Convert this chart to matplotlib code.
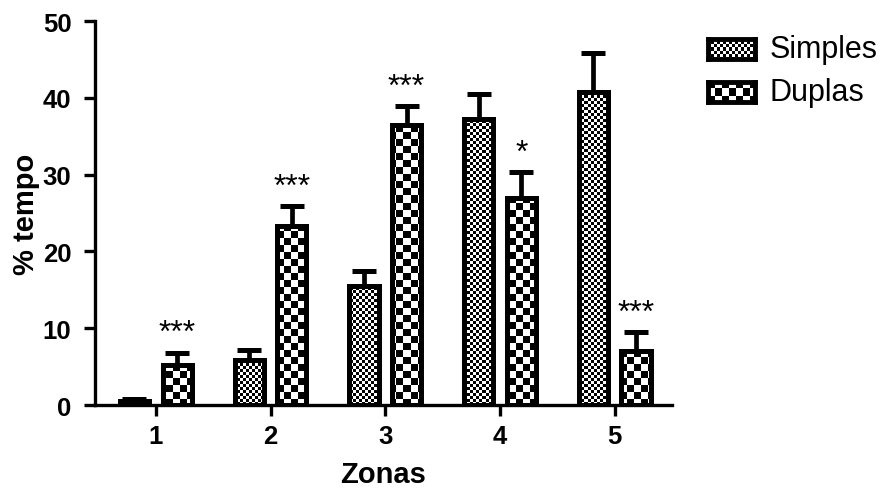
import numpy as np
import matplotlib
matplotlib.use("Agg")
import matplotlib.pyplot as plt

plt.rcParams['font.family'] = ['Liberation Sans', 'DejaVu Sans']

zones = ["1", "2", "3", "4", "5"]
series_names = ["Simples", "Duplas"]
simples = [0.5, 5.8, 15.5, 37.2, 40.8]
simples_err = [0.3, 1.3, 2.0, 3.3, 5.0]
duplas = [5.2, 23.3, 36.5, 26.9, 7.0]
duplas_err = [1.6, 2.6, 2.4, 3.4, 2.5]
signif = ["***", "***", "***", "*", "***"]
yticks = [0, 10, 20, 30, 40, 50]

W, H = 887, 489
fig = plt.figure(figsize=(W / 100, H / 100), dpi=100)
ax = fig.add_axes([95 / W, 1 - 406 / H, (672 - 95) / W, (406 - 22) / H])

x = np.arange(1, len(zones) + 1)
off = 0.186
bw = 0.255
ax.set_xlim(0.47, 5.5)
ax.set_ylim(0, 50)


def checker(h, w, c):
    i = np.arange(h)[:, None] // c
    j = np.arange(w)[None, :] // c
    return ((i + j) % 2).astype(float)


axw = int(round(fig.get_figwidth() * 100 * ax.get_position().width))
axh = int(round(fig.get_figheight() * 100 * ax.get_position().height))
patterns = {"Simples": checker(axh, axw, 3), "Duplas": checker(axh, axw, 7)}

groups = [(simples, simples_err, -off, "Simples"), (duplas, duplas_err, off, "Duplas")]
for vals, errs, dx, name in groups:
    bars = ax.bar(x + dx, vals, width=bw, facecolor='none', edgecolor='black',
                  linewidth=3.6, zorder=3)
    for b in bars:
        im = ax.imshow(patterns[name], cmap='gray', interpolation='nearest',
                       extent=(0.47, 5.5, 0, 50), aspect='auto', zorder=2)
        im.set_clip_path(b)
    ax.errorbar(x + dx, vals, yerr=[np.zeros(len(vals)), errs], fmt='none',
                ecolor='black', elinewidth=3.4, capsize=8.5, capthick=3.6, zorder=4)

for xi, v, e, s in zip(x, duplas, duplas_err, signif):
    ax.text(xi + off, v + e + 0.6, s, ha='center', va='bottom', fontsize=23)

ax.set_xlim(0.47, 5.5)
ax.set_ylim(0, 50)
ax.set_xticks(x)
ax.set_xticklabels(zones)
ax.set_yticks(yticks)
for sp in ['top', 'right']:
    ax.spines[sp].set_visible(False)
for sp in ['left', 'bottom']:
    ax.spines[sp].set_linewidth(2.4)
ax.tick_params(width=2.4, length=8, labelsize=18.5)
ax.tick_params(axis='x', pad=6)
ax.tick_params(axis='y', pad=9)
for lab in ax.get_xticklabels() + ax.get_yticklabels():
    lab.set_fontweight('bold')
ax.set_xlabel("Zonas", fontsize=21, fontweight='bold', labelpad=8)
ax.set_ylabel("% tempo", fontsize=21, fontweight='bold', labelpad=2)

# legend
leg_y = [50, 93]
for name, yc in zip(series_names, leg_y):
    lax = fig.add_axes([708 / W, 1 - (yc + 10) / H, 47 / W, 20 / H])
    c = 3 if name == "Simples" else 7
    lax.imshow(checker(20, 47, c), cmap='gray', interpolation='nearest', aspect='auto')
    lax.set_xticks([])
    lax.set_yticks([])
    for sp in lax.spines.values():
        sp.set_linewidth(3.5)
    fig.text(770 / W, 1 - yc / H, name, fontsize=22, va='center', ha='left')

fig.savefig("out.png", dpi=100)
